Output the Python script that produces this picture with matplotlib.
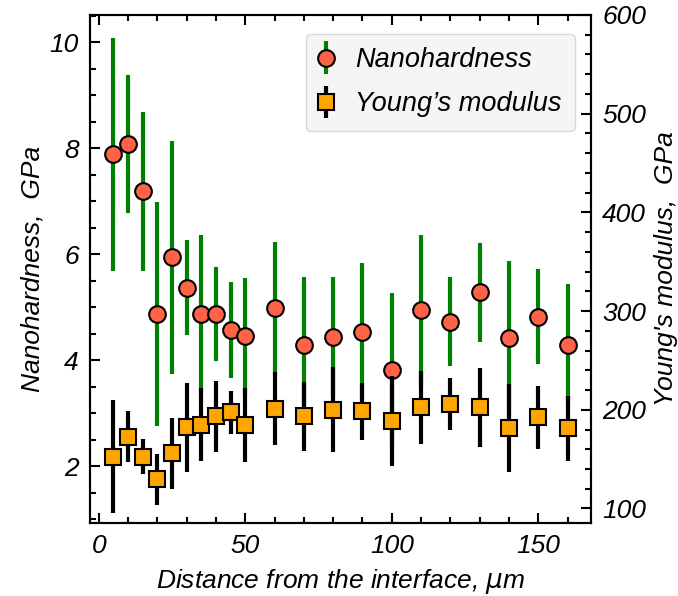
import matplotlib.pyplot as plt
from matplotlib.ticker import MultipleLocator
from matplotlib.legend_handler import HandlerErrorbar

plt.rcParams['font.family'] = ['Liberation Sans', 'DejaVu Sans']
plt.rcParams['font.style'] = 'italic'
plt.rcParams['mathtext.default'] = 'it'

# Data
distance = [5, 10, 15, 20, 25, 30, 35, 40, 45, 50, 60, 70, 80, 90, 100, 110, 120, 130, 140, 150, 160]
hardness = [7.89, 8.08, 7.19, 4.87, 5.94, 5.37, 4.87, 4.87, 4.57, 4.46, 4.98, 4.29, 4.43,
            4.54, 3.82, 4.94, 4.73, 5.28, 4.42, 4.82, 4.28]
hardness_err = [2.2, 1.3, 1.5, 2.12, 2.2, 0.9, 1.5, 0.89, 0.9, 1.1, 1.25, 1.29, 1.15,
                1.29, 1.45, 1.42, 0.84, 0.94, 1.46, 0.9, 1.15]
modulus = [152.6, 172.9, 152.6, 129.5, 156.0, 182.1, 184.8, 193.3, 197.3, 184.1, 201.0, 193.3, 200.0,
           198.4, 188.8, 202.4, 205.8, 202.4, 181.4, 192.3, 181.4]
modulus_err = [57.6, 25.5, 18.0, 26.0, 36.0, 45.0, 37.0, 35.6, 21.7, 37.5, 37.0, 35.0, 43.0,
               28.8, 45.5, 37.0, 26.6, 40.0, 44.4, 32.0, 33.0]

fig = plt.figure(figsize=(6.78, 5.96), dpi=100)
ax = fig.add_axes([0.1327, 0.122, 0.739, 0.853])
ax2 = ax.twinx()

h1 = ax.errorbar(distance, hardness, yerr=hardness_err, fmt='o', color='tomato',
                 markeredgecolor='black', markeredgewidth=1.5, markersize=12,
                 ecolor='green', elinewidth=3, capsize=0, label='Nanohardness')
h2 = ax2.errorbar(distance, modulus, yerr=modulus_err, fmt='s', color='orange',
                  markeredgecolor='black', markeredgewidth=1.5, markersize=12,
                  ecolor='black', elinewidth=3, capsize=0, label='Young\u2019s modulus')

ax.set_xlim(-3, 168)
ax.set_ylim(0.92, 10.52)
ax2.set_ylim(85, 600)

ax.xaxis.set_major_locator(MultipleLocator(50))
ax.xaxis.set_minor_locator(MultipleLocator(10))
ax.yaxis.set_major_locator(MultipleLocator(2))
ax.yaxis.set_minor_locator(MultipleLocator(0.5))
ax2.yaxis.set_major_locator(MultipleLocator(100))
ax2.yaxis.set_minor_locator(MultipleLocator(20))

ax.tick_params(which='both', direction='in', top=True, labelsize=19, width=1.5)
ax.tick_params(which='major', length=7, pad=8)
ax.tick_params(which='minor', length=4.5)
ax2.tick_params(which='both', direction='in', labelsize=19, width=1.5)
ax2.tick_params(which='major', length=7, pad=8)
ax2.tick_params(which='minor', length=4.5)
for a in (ax, ax2):
    for s in a.spines.values():
        s.set_linewidth(1.5)

ax.set_xlabel('Distance from the interface, $\\mu$m', fontsize=19, labelpad=6)
ax.set_ylabel('Nanohardness,  GPa', fontsize=19, labelpad=4)
ax2.set_ylabel("Young's modulus,  GPa", fontsize=19, rotation=90, labelpad=6)

leg = ax2.legend([h1, h2], ['Nanohardness', 'Young\u2019s modulus'], loc='upper right',
                 fontsize=19.5, fancybox=True, framealpha=1, facecolor='#f5f5f5',
                 edgecolor='#d8d8d8', borderpad=0.5, handlelength=0.52,
                 handletextpad=0.82, labelspacing=0.68, bbox_to_anchor=(0.996, 0.99),
                 handler_map={type(h1): HandlerErrorbar(yerr_size=0.6)})

fig.savefig('out.png', dpi=100)
